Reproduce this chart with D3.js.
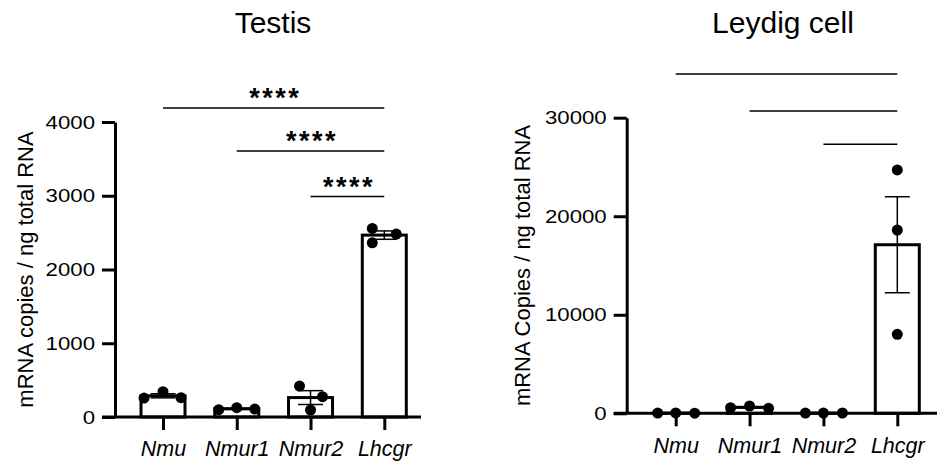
<!DOCTYPE html>
<html>
<head>
<meta charset="utf-8">
<script src="https://cdn.jsdelivr.net/npm/d3@7"></script>
<style>
  body { margin: 0; background: #fff; }
  svg { display: block; font-family: "Liberation Sans", Arial, sans-serif; }
</style>
</head>
<body>
<svg id="chart" width="939" height="463"></svg>
<script>
// categories and per-sample values
var genes = ["Nmu", "Nmur1", "Nmur2", "Lhcgr"];

var testisNmu   = [257, 343, 262];
var testisNmur1 = [100, 126, 108];
var testisNmur2 = [420, 275, 95];
var testisLhcgr = [2557, 2480, 2362];

var leydigNmu   = [20, 35, 15];
var leydigNmur1 = [570, 740, 500];
var leydigNmur2 = [25, 20, 30];
var leydigLhcgr = [24700, 18600, 8020];

var testisTicks = [0, 1000, 2000, 3000, 4000];
var leydigTicks = [0, 10000, 20000, 30000];

// comparisons drawn above the bars (from, to, label)
var testisComparisons = [["Nmu", "Lhcgr", "****"], ["Nmur1", "Lhcgr", "****"], ["Nmur2", "Lhcgr", "****"]];
var leydigComparisons = [["Nmu", "Lhcgr", ""], ["Nmur1", "Lhcgr", ""], ["Nmur2", "Lhcgr", ""]];

// horizontal scatter of the dots, in px
var testisJitter = [[-19, 0, 18], [-18, 0, 18], [-11, 12, 0], [-12, 12, -12]];
var leydigJitter = [[-18, 0, 19], [-19, 0, 19], [-18, 0, 19], [0, 0, 0]];

var svg = d3.select("#chart");

function mean(a) { return d3.mean(a); }
function sem(a) { return d3.deviation(a) / Math.sqrt(a.length); }

var drawPanel = function(opt) {
    var g = svg.append("g");
    var groups = opt.groups.map(function(vals, i) {
        return {gene: genes[i], values: vals, jitter: opt.jitter[i], m: mean(vals), e: sem(vals)};
    });

    var x = d3.scalePoint().domain(genes).range(opt.xRange);
    var y = d3.scaleLinear().domain([0, opt.yMax]).range([opt.yBottom, opt.yTop]);

    // title
    g.append("text")
        .attr("x", opt.titleX).attr("y", 33)
        .attr("text-anchor", "middle")
        .style("font-size", "30px")
        .text(opt.title);

    // y label
    g.append("text")
        .attr("transform", "translate(" + opt.labelX + "," + (opt.yBottom + opt.yTop) / 2 + ") rotate(-90)")
        .attr("text-anchor", "middle")
        .style("font-size", "22px")
        .text(opt.yLabel);

    // bars
    var bw = 44;
    g.selectAll(".bar")
        .data(groups)
        .enter().append("rect")
        .attr("class", "bar")
        .attr("x", function(d) { return x(d.gene) - bw / 2; })
        .attr("width", bw)
        .attr("y", function(d) { return y(d.m); })
        .attr("height", function(d) { return y(0) - y(d.m); })
        .attr("fill", "#fff")
        .attr("stroke", "#000")
        .attr("stroke-width", 3);

    // error bars (mean +/- SEM)
    var eg = g.selectAll(".err").data(groups).enter().append("g").attr("class", "err")
        .attr("stroke", "#000").attr("stroke-width", 1.5);
    eg.append("line")
        .attr("x1", function(d) { return x(d.gene); })
        .attr("x2", function(d) { return x(d.gene); })
        .attr("y1", function(d) { return y(d.m + d.e); })
        .attr("y2", function(d) { return y(Math.max(0, d.m - d.e)); });
    eg.append("line")
        .attr("x1", function(d) { return x(d.gene) - 12.5; })
        .attr("x2", function(d) { return x(d.gene) + 12.5; })
        .attr("y1", function(d) { return y(d.m + d.e); })
        .attr("y2", function(d) { return y(d.m + d.e); });
    eg.append("line")
        .attr("x1", function(d) { return x(d.gene) - 12.5; })
        .attr("x2", function(d) { return x(d.gene) + 12.5; })
        .attr("y1", function(d) { return y(Math.max(0, d.m - d.e)); })
        .attr("y2", function(d) { return y(Math.max(0, d.m - d.e)); });

    // axes
    var yAxis = g.append("g")
        .attr("transform", "translate(" + opt.axisX + ",0)")
        .call(d3.axisLeft(y).tickValues(opt.ticks).tickFormat(d3.format("d")).tickSize(13).tickSizeOuter(0).tickPadding(7));
    yAxis.selectAll("path, line").attr("stroke-width", 3);
    // tick numbers in the original are wide and short
    yAxis.selectAll("text")
        .style("font-size", "19px")
        .attr("fill", "#000")
        .each(function() {
            var t = d3.select(this), tx = +t.attr("x");
            t.attr("x", 0).attr("transform", "translate(" + tx + ",0) scale(1.17,1)");
        });

    g.append("line")
        .attr("x1", opt.axisX - 13).attr("x2", opt.xAxisEnd)
        .attr("y1", y(0)).attr("y2", y(0))
        .attr("stroke", "#000").attr("stroke-width", 3);

    var xAxis = g.append("g")
        .attr("transform", "translate(0," + y(0) + ")")
        .call(d3.axisBottom(x).tickSize(13).tickSizeOuter(0).tickPadding(11));
    xAxis.select(".domain").remove();
    xAxis.selectAll("line").attr("stroke-width", 3);
    xAxis.selectAll("text").style("font-size", "21.5px").style("font-style", "italic").attr("fill", "#000");

    // dots
    groups.forEach(function(d) {
        g.selectAll(null)
            .data(d.values)
            .enter().append("circle")
            .attr("cx", function(v, j) { return x(d.gene) + d.jitter[j]; })
            .attr("cy", function(v) { return y(v); })
            .attr("r", 5.5)
            .attr("fill", "#000");
    });

    // significance lines
    opt.comparisons.forEach(function(c, i) {
        var ly = opt.sigY[i];
        g.append("line")
            .attr("x1", x(c[0])).attr("x2", x(c[1]))
            .attr("y1", ly).attr("y2", ly)
            .attr("stroke", "#000").attr("stroke-width", 1.6);
        if (c[2]) {
            g.append("text")
                .attr("x", (x(c[0]) + x(c[1])) / 2 + 1.5)
                .attr("y", ly - 1)
                .attr("text-anchor", "middle")
                .style("font-size", "27px")
                .style("font-weight", "bold")
                .style("letter-spacing", "2.5px")
                .text(c[2]);
        }
    });
};

drawPanel({
    title: "Testis", titleX: 273,
    yLabel: "mRNA copies / ng total RNA", labelX: 33,
    groups: [testisNmu, testisNmur1, testisNmur2, testisLhcgr],
    jitter: testisJitter,
    comparisons: testisComparisons, sigY: [108, 151, 196.5],
    ticks: testisTicks, yMax: 4000,
    yBottom: 417, yTop: 122,
    axisX: 115, xRange: [163, 384.3], xAxisEnd: 421
});

drawPanel({
    title: "Leydig cell", titleX: 783,
    yLabel: "mRNA Copies / ng total RNA", labelX: 530,
    groups: [leydigNmu, leydigNmur1, leydigNmur2, leydigLhcgr],
    jitter: leydigJitter,
    comparisons: leydigComparisons, sigY: [74, 111, 144.3],
    ticks: leydigTicks, yMax: 30000,
    yBottom: 413.3, yTop: 117.7,
    axisX: 626.7, xRange: [675.7, 897.3], xAxisEnd: 937
});
</script>
</body>
</html>
